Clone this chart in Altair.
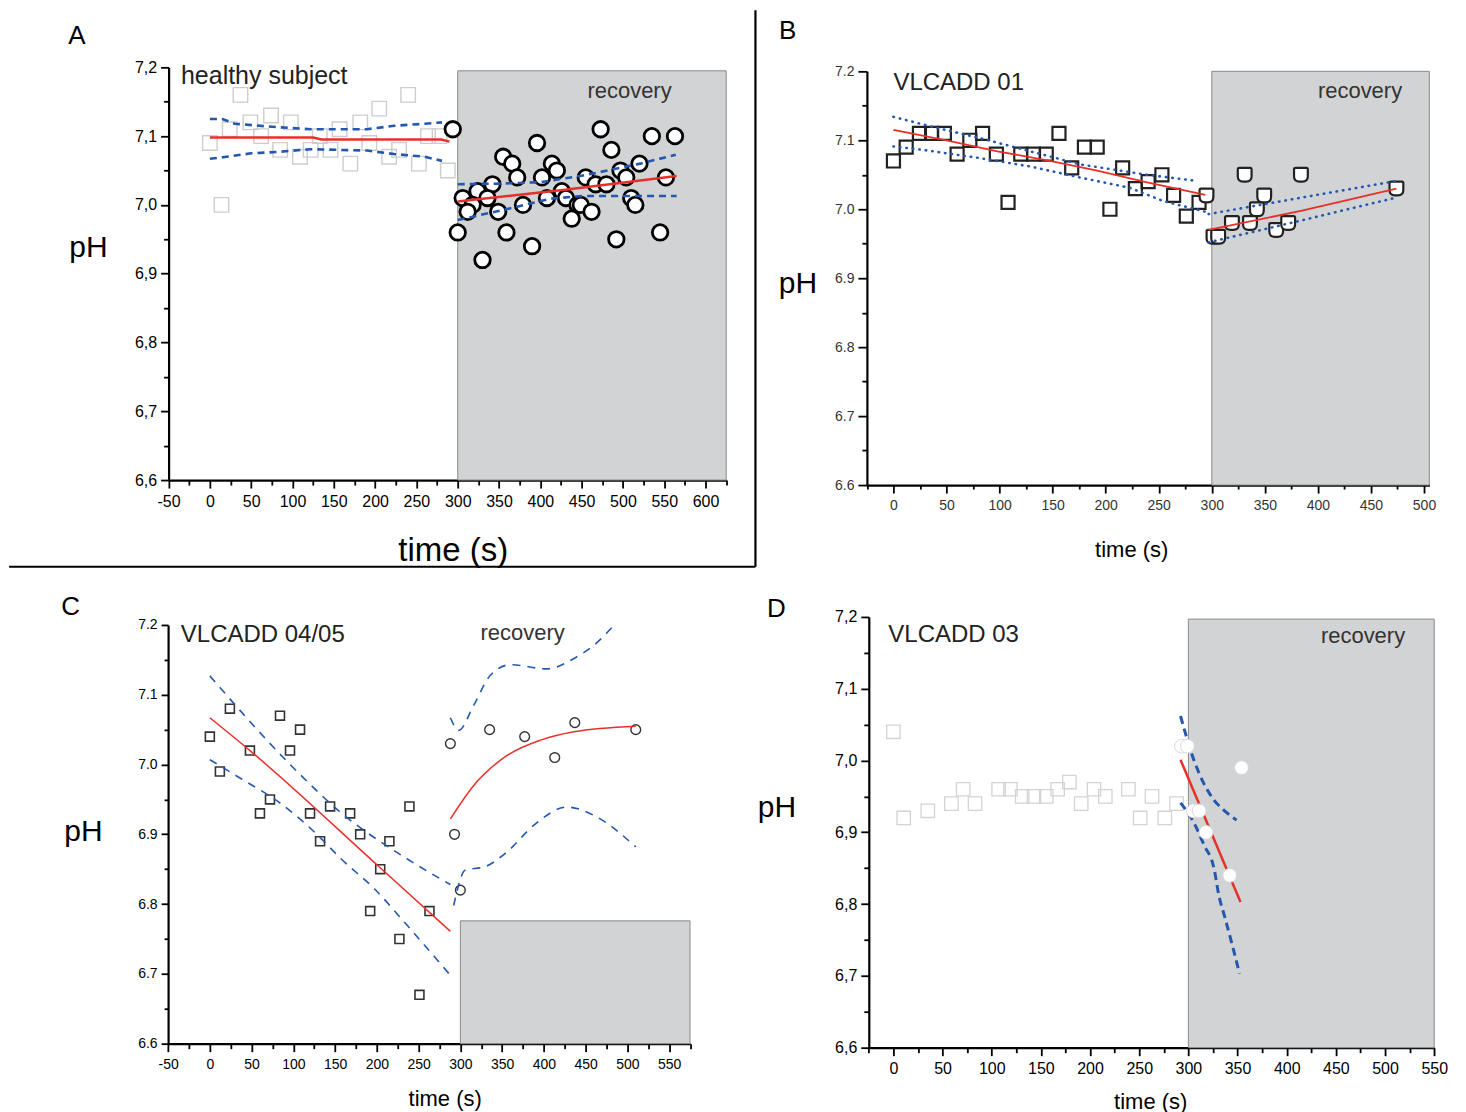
import altair as alt
import pandas as pd

# ---------------- Panel A : healthy subject ----------------
a_sq_t = [0, 14, 24, 37, 49, 62, 74, 85, 98, 109, 122, 133, 146, 157, 170, 182, 193, 205, 217, 229, 240, 253, 264, 278, 288]
a_sq_ph = [7.09, 7.00, 7.11, 7.16, 7.12, 7.10, 7.13, 7.08, 7.12, 7.07, 7.08, 7.10, 7.08, 7.11, 7.06, 7.12, 7.09, 7.14, 7.07, 7.08, 7.16, 7.06, 7.10, 7.10, 7.05]
a_ci_t = [294, 473, 535, 563, 396, 486, 355, 366, 414, 420, 520, 497, 372, 402, 455, 504, 552, 342, 467, 480, 324,
          306, 336, 426, 408, 431, 510, 318, 379, 445, 449, 515, 312, 349, 462, 438, 300, 359, 545, 492, 390, 330]
a_ci_ph = [7.11, 7.11, 7.10, 7.10, 7.09, 7.08, 7.07, 7.06, 7.06, 7.05, 7.06, 7.05, 7.04, 7.04, 7.04, 7.04, 7.04, 7.03, 7.03, 7.03, 7.02,
           7.01, 7.01, 7.02, 7.01, 7.01, 7.01, 7.00, 7.00, 7.00, 7.00, 7.00, 6.99, 6.99, 6.99, 6.98, 6.96, 6.96, 6.96, 6.95, 6.94, 6.92]
a_fit1_t = [0, 125, 135, 280, 290]
a_fit1_ph = [7.098, 7.098, 7.095, 7.095, 7.092]
a_up1_t = [0, 15, 30, 82, 122, 190, 223, 260, 281]
a_up1_ph = [7.125, 7.125, 7.118, 7.113, 7.110, 7.110, 7.115, 7.118, 7.120]
a_lo1_t = [0, 20, 50, 82, 122, 190, 223, 260, 281]
a_lo1_ph = [7.067, 7.070, 7.075, 7.077, 7.081, 7.079, 7.074, 7.070, 7.064]
a_fit2_t = [300, 430, 565]
a_fit2_ph = [7.005, 7.022, 7.042]
a_up2_t = [300, 350, 400, 453, 521, 564]
a_up2_ph = [7.030, 7.031, 7.033, 7.043, 7.060, 7.073]
a_lo2_t = [300, 360, 412, 450, 565]
a_lo2_ph = [6.978, 6.994, 7.009, 7.013, 7.013]

# ---------------- Panel B : VLCADD 01 ----------------
b_sq_t = [0, 12, 24.5, 36, 48, 60, 72, 84, 97, 108, 120, 132, 144, 156, 168, 180, 192, 204, 216, 228, 240, 253, 264, 276, 288]
b_sq_ph = [7.07, 7.09, 7.11, 7.11, 7.11, 7.08, 7.10, 7.11, 7.08, 7.01, 7.08, 7.08, 7.08, 7.11, 7.06, 7.09, 7.09, 7.00, 7.06, 7.03, 7.04, 7.05, 7.02, 6.99, 7.01]
b_rc_t = [295, 301.6, 306, 319, 331, 336, 342.5, 349.4, 360.7, 372, 384, 474]
b_rc_ph = [7.02, 6.96, 6.96, 6.98, 7.05, 6.98, 7.00, 7.02, 6.97, 6.98, 7.05, 7.03]
b_fit1_t = [0, 50, 98, 145, 192, 239, 294]
b_fit1_ph = [7.115, 7.100, 7.084, 7.071, 7.056, 7.039, 7.021]
b_up1_t = [0, 33, 82, 129, 176, 239, 286]
b_up1_ph = [7.134, 7.121, 7.103, 7.084, 7.065, 7.050, 7.041]
b_lo1_t = [0, 28, 82, 129, 176, 223, 254, 295]
b_lo1_ph = [7.091, 7.086, 7.074, 7.062, 7.046, 7.031, 7.012, 6.996]
b_fit2_t = [297, 385, 474]
b_fit2_ph = [6.970, 6.998, 7.030]
b_up2_t = [297, 385, 474]
b_up2_ph = [6.993, 7.017, 7.041]
b_lo2_t = [297, 385, 474]
b_lo2_ph = [6.952, 6.984, 7.017]

# ---------------- Panel C : VLCADD 04/05 ----------------
c_sq_t = [0, 12, 24, 48, 60, 72, 84, 96, 108, 120, 132, 144, 168, 180, 192, 204, 215, 227, 239, 251, 263]
c_sq_ph = [7.04, 6.99, 7.08, 7.02, 6.93, 6.95, 7.07, 7.02, 7.05, 6.93, 6.89, 6.94, 6.93, 6.90, 6.79, 6.85, 6.89, 6.75, 6.94, 6.67, 6.79]
c_ci_t = [288, 293, 300, 335, 377, 413, 437, 510]
c_ci_ph = [7.03, 6.90, 6.82, 7.05, 7.04, 7.01, 7.06, 7.05]
c_fit1_t = [0, 48, 204, 288]
c_fit1_ph = [7.067, 7.020, 6.852, 6.761]
c_up1_t = [0, 97, 156, 236, 288]
c_up1_ph = [7.127, 6.999, 6.932, 6.865, 6.828]
c_lo1_t = [0, 37, 85, 129, 157, 197, 236, 288]
c_lo1_ph = [7.007, 6.980, 6.944, 6.899, 6.865, 6.822, 6.770, 6.698]
c_fit2_t = [288, 316, 356, 396, 436, 510]
c_fit2_ph = [6.922, 6.970, 7.013, 7.035, 7.047, 7.055]
c_up2_t = [288, 298, 316, 336, 360, 404, 436, 460, 482]
c_up2_ph = [7.067, 7.049, 7.085, 7.128, 7.143, 7.137, 7.152, 7.171, 7.197]
c_lo2_t = [292, 306, 328, 356, 388, 428, 460, 510]
c_lo2_ph = [6.798, 6.849, 6.853, 6.875, 6.913, 6.939, 6.927, 6.882]

# ---------------- Panel D : VLCADD 03 ----------------
d_sq_t = [0, 10.5, 35, 59, 71, 83, 107, 119, 131, 143, 155.5, 167, 179, 191, 204, 215.5, 239, 251, 263, 276, 288]
d_sq_ph = [7.04, 6.92, 6.93, 6.94, 6.96, 6.94, 6.96, 6.96, 6.95, 6.95, 6.95, 6.96, 6.97, 6.94, 6.96, 6.95, 6.96, 6.92, 6.95, 6.92, 6.94]
d_ci_t = [293, 299, 305, 311, 318, 342, 354]
d_ci_ph = [7.02, 7.02, 6.93, 6.93, 6.90, 6.84, 6.99]
d_fit_t = [292, 353]
d_fit_ph = [7.001, 6.803]
d_up_t = [292, 305, 315, 326, 336, 349]
d_up_ph = [7.062, 7.003, 6.970, 6.945, 6.931, 6.917]
d_lo_t = [292, 305, 316, 326, 331, 337, 345, 352]
d_lo_ph = [6.941, 6.915, 6.882, 6.850, 6.812, 6.782, 6.741, 6.703]

# tick values
a_xticks = list(range(-50, 626, 25))
b_xticks = list(range(-25, 501, 25))
c_xticks = list(range(-50, 576, 25))
d_xticks = list(range(-25, 551, 25))
ph_ticks = [round(6.6 + 0.05 * i, 2) for i in range(13)]

# ---------------- layout / style ----------------
W, H, M = 1450, 1100, 8
RED = "#e8302a"
BLUE = "#2458b0"
SHADE = "#d1d3d4"
FONT = "Liberation Sans"
NARROW = "Liberation Sans Narrow, Arial Narrow, Liberation Sans"


def xscale(dom, p0, p1):
    return alt.Scale(domain=dom, range=[p0 - M, p1 - M], nice=False, zero=False)


def yscale(pbot, ptop):
    return alt.Scale(domain=[6.6, 7.2], range=[pbot - M, ptop - M], nice=False, zero=False)


def xaxis(values, axis_px, lsize, lfont, lcolor, tsize, tfont, tcx, tcy, major=8, minor=5, pad=4):
    test = "abs(datum.value % 50) < 0.001"
    return alt.Axis(
        orient="bottom", values=values, offset=(axis_px - M) - H, grid=False,
        labelExpr=f"{test} ? ('' + datum.value) : ''", labelFontSize=lsize, labelFont=lfont,
        labelColor=lcolor, labelOverlap=False, labelFlush=False, labelPadding=pad,
        tickSize={"condition": {"test": test, "value": major}, "value": minor},
        tickColor="black", tickWidth=1.8, domainColor="black", domainWidth=2.2,
        title="time (s)", titleFont=tfont, titleFontSize=tsize, titleFontWeight="normal",
        titleColor="black", titleX=tcx - M, titleY=tcy - axis_px, titleAngle=0,
        titleAlign="center", titleBaseline="middle",
    )


def yaxis(axis_px, comma, lsize, lfont, lcolor, tcx, tcy, major=8, minor=5, pad=4):
    test = "abs(round(datum.value * 100) % 10) == 0"
    lab = "replace(format(datum.value, '.1f'), '.', ',')" if comma else "format(datum.value, '.1f')"
    return alt.Axis(
        orient="left", values=ph_ticks, offset=-(axis_px - M), grid=False,
        labelExpr=f"{test} ? {lab} : ''", labelFontSize=lsize, labelFont=lfont,
        labelColor=lcolor, labelOverlap=False, labelFlush=False, labelPadding=pad,
        tickSize={"condition": {"test": test, "value": major}, "value": minor},
        tickColor="black", tickWidth=1.8, domainColor="black", domainWidth=2.2,
        title="pH", titleFont=FONT, titleFontSize=30, titleFontWeight="normal",
        titleColor="black", titleX=tcx - axis_px, titleY=tcy - M, titleAngle=0,
        titleAlign="center", titleBaseline="middle",
    )


def lines_df(segs):
    rows = []
    for name, ts, ps in segs:
        for t, p in zip(ts, ps):
            rows.append({"t": t, "pH": p, "seg": name})
    return pd.DataFrame(rows)


def pts_df(ts, ps):
    return pd.DataFrame({"t": ts, "pH": ps})


def build_panel(xs, ys, xa, ya, shade, fits, cis, fit_w, ci_w, ci_dash, ci_cap,
                pts_below, pts_above, texts, extra=None, interp="linear"):
    X = alt.X("t:Q", scale=xs, axis=xa)
    Y = alt.Y("pH:Q", scale=ys, axis=ya)
    layers = []
    sd = pd.DataFrame([{"t": shade[0], "t2": shade[1], "pH": shade[2], "pH2": shade[3]}])
    layers.append(alt.Chart(sd).mark_rect(fill=SHADE, stroke="#8a8a8a", strokeWidth=1).encode(
        x=X, x2=alt.X2("t2"), y=Y, y2=alt.Y2("pH2")))
    if extra is not None:
        layers.append(extra(X, Y))
    for df, mk in pts_below:
        layers.append(alt.Chart(df).mark_point(**mk).encode(x=X, y=Y))
    layers.append(alt.Chart(lines_df(cis)).mark_line(
        color=BLUE, strokeWidth=ci_w, strokeDash=ci_dash, strokeCap=ci_cap, interpolate=interp).encode(
        x=X, y=Y, detail="seg:N"))
    layers.append(alt.Chart(lines_df(fits)).mark_line(
        color=RED, strokeWidth=fit_w, interpolate=interp).encode(
        x=X, y=Y, detail="seg:N"))
    for df, mk in pts_above:
        layers.append(alt.Chart(df).mark_point(**mk).encode(x=X, y=Y))
    for (t, p, label, size, align, color) in texts:
        td = pd.DataFrame([{"t": t, "pH": p, "label": label}])
        layers.append(alt.Chart(td).mark_text(
            align=align, baseline="middle", fontSize=size, font=FONT, color=color).encode(
            x=X, y=Y, text="label:N"))
    return alt.layer(*layers)


ROUNDED = "M -0.8 -1 L 0.8 -1 Q 1 -1 1 -0.8 L 1 0.2 Q 1 1 0.2 1 L -0.2 1 Q -1 1 -1 0.2 L -1 -0.8 Q -1 -1 -0.8 -1 Z"

# ---- Panel A ----
xsA = xscale([-50, 625], 167.7, 725.7)
ysA = yscale(478, 65)
xaA = xaxis(a_xticks, 478, 16, NARROW, "black", 33, NARROW, 452, 548, major=8, minor=5, pad=5)
yaA = yaxis(167.7, True, 16, NARROW, "black", 87, 245, major=8, minor=5, pad=4)

frame_t = [660.4, -243.0]
frame_t2 = [660.4, 660.4]
frame_ph = [7.283, 6.474]
frame_ph2 = [6.474, 6.474]


def frameA(X, Y):
    fd = pd.DataFrame({"t": frame_t, "t2": frame_t2, "pH": frame_ph, "pH2": frame_ph2})
    return alt.Chart(fd).mark_rule(color="black", strokeWidth=2.2).encode(
        x=X, x2=alt.X2("t2"), y=Y, y2=alt.Y2("pH2"))


panelA = build_panel(
    xsA, ysA, xaA, yaA, (300, 625, 6.6, 7.195),
    [("f1", a_fit1_t, a_fit1_ph), ("f2", a_fit2_t, a_fit2_ph)],
    [("u1", a_up1_t, a_up1_ph), ("l1", a_lo1_t, a_lo1_ph), ("u2", a_up2_t, a_up2_ph), ("l2", a_lo2_t, a_lo2_ph)],
    2.5, 2.6, [7, 5], "butt",
    [(pts_df(a_sq_t, a_sq_ph), dict(shape="square", filled=False, size=210, stroke="#cdcdcd", strokeWidth=1.4, opacity=1)),
     (pts_df(a_ci_t, a_ci_ph), dict(shape="circle", filled=True, fill="white", stroke="black", size=240, strokeWidth=2.8, opacity=1))],
    [],
    [(-161, 7.245, "A", 26, "center", "black"),
     (-35, 7.188, "healthy subject", 25, "left", "#222222"),
     (508, 7.165, "recovery", 22, "center", "#333333")],
    extra=frameA,
)

# ---- Panel B ----
xsB = xscale([-25, 505], 866.5, 1429.3)
ysB = yscale(483, 69)
xaB = xaxis(b_xticks, 483, 14, FONT, "#333333", 22, FONT, 1131, 547, major=8, minor=4, pad=5)
yaB = yaxis(866.5, False, 14, FONT, "#333333", 797, 281, major=9, minor=5, pad=4)
panelB = build_panel(
    xsB, ysB, xaB, yaB, (300, 505, 6.6, 7.2),
    [("f1", b_fit1_t, b_fit1_ph), ("f2", b_fit2_t, b_fit2_ph)],
    [("u1", b_up1_t, b_up1_ph), ("l1", b_lo1_t, b_lo1_ph), ("u2", b_up2_t, b_up2_ph), ("l2", b_lo2_t, b_lo2_ph)],
    1.8, 2.6, [0.5, 6], "round",
    [(pts_df(b_sq_t, b_sq_ph), dict(shape="square", filled=False, size=170, stroke="#222222", strokeWidth=2.2, opacity=1)),
     (pts_df(b_rc_t, b_rc_ph), dict(shape=ROUNDED, filled=True, fill="white", stroke="#222222", size=190, strokeWidth=2.2, opacity=1))],
    [],
    [(-99.8, 7.259, "B", 26, "center", "black"),
     (0, 7.183, "VLCADD 01", 24, "left", "#222222"),
     (439.7, 7.172, "recovery", 22, "center", "#333333")],
)

# ---- Panel C ----
xsC = xscale([-50, 575], 167.2, 689.5)
ysC = yscale(1042, 623)
xaC = xaxis(c_xticks, 1042, 14, FONT, "black", 22, FONT, 444, 1097, major=8, minor=5, pad=6)
yaC = yaxis(167.2, False, 14, FONT, "black", 82, 830, major=7, minor=4, pad=4)
panelC = build_panel(
    xsC, ysC, xaC, yaC, (300, 575, 6.6, 6.776),
    [("f1", c_fit1_t, c_fit1_ph), ("f2", c_fit2_t, c_fit2_ph)],
    [("u1", c_up1_t, c_up1_ph), ("l1", c_lo1_t, c_lo1_ph), ("u2", c_up2_t, c_up2_ph), ("l2", c_lo2_t, c_lo2_ph)],
    1.5, 1.6, [8, 7], "butt",
    [(pts_df(c_sq_t, c_sq_ph), dict(shape="square", filled=False, size=80, stroke="#333333", strokeWidth=1.6, opacity=1)),
     (pts_df(c_ci_t, c_ci_ph), dict(shape="circle", filled=False, size=95, stroke="#333333", strokeWidth=1.4, opacity=1))],
    [],
    [(-166.6, 7.226, "C", 26, "center", "black"),
     (-34.7, 7.186, "VLCADD 04/05", 24, "left", "#222222"),
     (374.5, 7.189, "recovery", 22, "center", "#333333")],
    interp="monotone",
)

# ---- Panel D ----
xsD = xscale([-25, 550], 868.4, 1434.2)
ysD = yscale(1046, 615)
xaD = xaxis(d_xticks, 1046, 16, NARROW, "black", 22, NARROW, 1150, 1100, major=8, minor=5, pad=5)
yaD = yaxis(868.4, True, 16, NARROW, "black", 776, 806, major=8, minor=5, pad=4)
panelD = build_panel(
    xsD, ysD, xaD, yaD, (300, 550, 6.6, 7.197),
    [("f1", d_fit_t, d_fit_ph)],
    [("u1", d_up_t, d_up_ph), ("l1", d_lo_t, d_lo_ph)],
    2.5, 3, [8, 5], "butt",
    [(pts_df(d_sq_t, d_sq_ph), dict(shape="square", filled=False, size=180, stroke="#d3d3d3", strokeWidth=1.3, opacity=1))],
    [(pts_df(d_ci_t, d_ci_ph), dict(shape="circle", filled=True, fill="white", stroke="#d8d8d8", size=190, strokeWidth=1, opacity=1))],
    [(-118.9, 7.211, "D", 26, "center", "black"),
     (-5.1, 7.175, "VLCADD 03", 24, "left", "#222222"),
     (477.6, 7.174, "recovery", 22, "center", "#333333")],
    interp="monotone",
)

chart = alt.layer(panelA, panelB, panelC, panelD).resolve_scale(
    x="independent", y="independent"
).properties(
    width=W, height=H, padding=0, background="white"
).configure_view(strokeWidth=0)

chart.save("out.html", embed_options={"renderer": "svg", "actions": False})
